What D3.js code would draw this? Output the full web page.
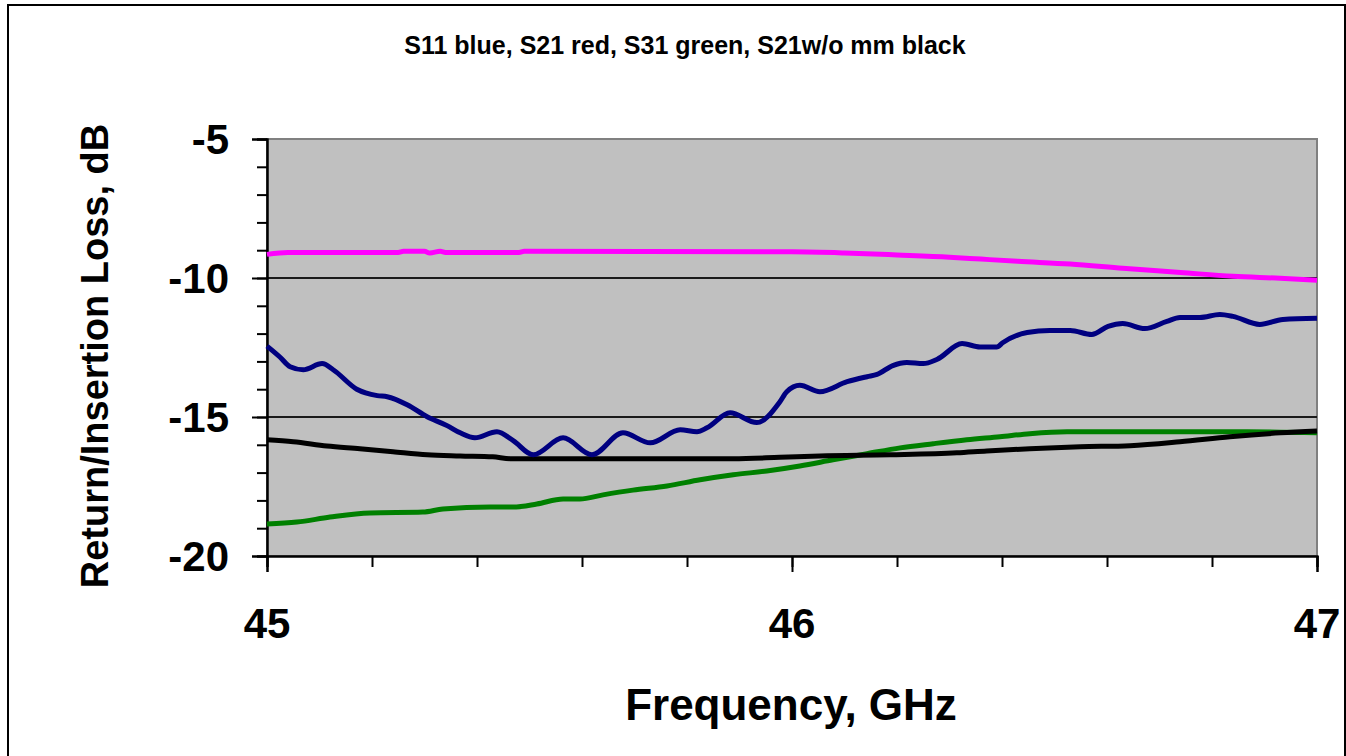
<html>

<head>
    <meta charset="utf-8">
    <title>S-parameter chart</title>
    <style>
        body {
            margin: 0;
            background: #fff;
        }
        
        text {
            font-family: "Liberation Sans", Arial, sans-serif;
            font-weight: bold;
        }
    </style>
    <script src="https://cdn.jsdelivr.net/npm/d3@7"></script>
</head>

<body>

</body>
<script>
    // frequencies (GHz) and levels (dB)
    var s11Freq = [45.000, 45.025, 45.044, 45.069, 45.105, 45.126, 45.171, 45.210, 45.229, 45.267, 45.305, 45.343, 45.368, 45.396,
        45.438, 45.469, 45.507, 45.564, 45.619, 45.678, 45.730, 45.787, 45.819, 45.838, 45.882, 45.933, 45.977, 45.990, 46.015,
        46.053, 46.105, 46.143, 46.162, 46.192, 46.219, 46.250, 46.276, 46.324, 46.358, 46.390, 46.402, 46.448, 46.491, 46.530,
        46.571, 46.602, 46.630, 46.672, 46.714, 46.739, 46.777, 46.815, 46.840, 46.891, 46.935, 47.000
    ];
    var s11 = [-12.45, -12.85, -13.19, -13.30, -13.08, -13.30, -14.00, -14.23, -14.27, -14.56, -14.99, -15.31, -15.57, -15.75,
        -15.53, -15.85, -16.36, -15.75, -16.36, -15.57, -15.93, -15.46, -15.53, -15.39, -14.85, -15.20, -14.45, -14.09, -13.86,
        -14.09, -13.73, -13.55, -13.47, -13.15, -13.04, -13.08, -12.93, -12.36, -12.48, -12.48, -12.32, -11.96, -11.89, -11.89,
        -12.03, -11.74, -11.64, -11.82, -11.56, -11.42, -11.42, -11.31, -11.38, -11.67, -11.49, -11.45
    ];

    var s21Freq = [45.00, 45.04, 45.25, 45.26, 45.30, 45.31, 45.33, 45.34, 45.48, 45.49, 46.00, 46.10, 46.20, 46.30, 46.36,
        46.43, 46.53, 46.63, 46.74, 46.84, 46.93, 47.00
    ];
    var s21 = [-9.15, -9.08, -9.08, -9.04, -9.04, -9.10, -9.04, -9.08, -9.08, -9.04, -9.06, -9.10, -9.17, -9.25, -9.32,
        -9.40, -9.50, -9.65, -9.80, -9.94, -10.01, -10.08
    ];

    var s31Freq = [45.000, 45.057, 45.120, 45.196, 45.297, 45.335, 45.425, 45.469, 45.514, 45.564, 45.596, 45.640, 45.697,
        45.762, 45.825, 45.888, 45.952, 46.015, 46.078, 46.143, 46.206, 46.269, 46.333, 46.396, 46.453, 46.524, 46.867, 47.000
    ];
    var s31 = [-18.85, -18.78, -18.60, -18.45, -18.42, -18.31, -18.24, -18.24, -18.13, -17.95, -17.95, -17.80, -17.63,
        -17.48, -17.26, -17.08, -16.94, -16.76, -16.54, -16.32, -16.11, -15.96, -15.82, -15.71, -15.60, -15.53, -15.53, -15.57
    ];

    var s21noMmFreq = [45.000, 45.050, 45.114, 45.177, 45.240, 45.305, 45.368, 45.430, 45.463, 45.888, 45.977, 46.053, 46.187,
        46.314, 46.371, 46.453, 46.549, 46.644, 46.739, 46.834, 46.930, 47.000
    ];
    var s21noMm = [-15.82, -15.89, -16.04, -16.14, -16.25, -16.36, -16.40, -16.43, -16.50, -16.50, -16.45, -16.40, -16.36,
        -16.29, -16.22, -16.14, -16.07, -16.03, -15.89, -15.71, -15.57, -15.50
    ];

    var xTicks = [45, 46, 47];
    var yTicks = [-5, -10, -15, -20];
    var gridValues = [-10, -15];

    var W = 1346,
        H = 756;
    var plot = {
        left: 267,
        right: 1317,
        top: 139,
        bottom: 556
    };

    var x = d3.scaleLinear().domain([45, 47]).range([plot.left, plot.right]);
    var y = d3.scaleLinear().domain([-20, -5]).range([plot.bottom, plot.top]);

    var svg = d3.select("body").append("svg")
        .attr("width", W)
        .attr("height", H);

    // outer chart frame
    svg.append("rect")
        .attr("x", 8)
        .attr("y", 5)
        .attr("width", 1337)
        .attr("height", 780)
        .attr("fill", "none")
        .attr("stroke", "#000")
        .attr("stroke-width", 2);

    // plot area
    svg.append("rect")
        .attr("x", plot.left)
        .attr("y", plot.top)
        .attr("width", plot.right - plot.left)
        .attr("height", plot.bottom - plot.top)
        .attr("fill", "#c0c0c0")
        .attr("stroke", "#808080")
        .attr("stroke-width", 2);

    svg.selectAll(".grid")
        .data(gridValues)
        .enter()
        .append("line")
        .attr("class", "grid")
        .attr("x1", plot.left)
        .attr("x2", plot.right)
        .attr("y1", function(d) {
            return y(d);
        })
        .attr("y2", function(d) {
            return y(d);
        })
        .attr("stroke", "#1a1a1a")
        .attr("stroke-width", 2);

    // axes: minor ticks first, then major ticks with labels
    var yMinor = d3.axisLeft(y).ticks(15).tickSize(10).tickFormat("");
    var yMajor = d3.axisLeft(y).tickValues(yTicks).tickSize(15).tickFormat("");
    var xMinor = d3.axisBottom(x).tickValues(d3.range(45, 47.01, 0.2)).tickSize(11).tickFormat("");
    var xMajor = d3.axisBottom(x).tickValues(xTicks).tickSize(16).tickFormat("");

    [yMinor, yMajor].forEach(function(ax) {
        svg.append("g")
            .attr("class", "y axis")
            .attr("transform", "translate(" + plot.left + ",0)")
            .call(ax);
    });
    [xMinor, xMajor].forEach(function(ax) {
        svg.append("g")
            .attr("class", "x axis")
            .attr("transform", "translate(0," + plot.bottom + ")")
            .call(ax);
    });
    svg.selectAll(".axis path").attr("stroke", "#000").attr("stroke-width", 2);
    svg.selectAll(".axis line").attr("stroke", "#000").attr("stroke-width", 2);

    svg.selectAll(".ylab")
        .data(yTicks)
        .enter()
        .append("text")
        .attr("class", "ylab")
        .attr("x", 229)
        .attr("y", function(d) {
            return y(d);
        })
        .attr("dy", "0.36em")
        .attr("text-anchor", "end")
        .style("font-size", "42px")
        .text(function(d) {
            return d;
        });

    svg.selectAll(".xlab")
        .data(xTicks)
        .enter()
        .append("text")
        .attr("class", "xlab")
        .attr("x", function(d) {
            return x(d);
        })
        .attr("y", 638)
        .attr("text-anchor", "middle")
        .style("font-size", "42px")
        .text(function(d) {
            return d;
        });

    // series
    var series = [{
        f: s21Freq,
        v: s21,
        color: "#ff00ff"
    }, {
        f: s31Freq,
        v: s31,
        color: "#008000"
    }, {
        f: s21noMmFreq,
        v: s21noMm,
        color: "#000000"
    }, {
        f: s11Freq,
        v: s11,
        color: "#000080"
    }];

    var line = d3.line()
        .x(function(d) {
            return x(d[0]);
        })
        .y(function(d) {
            return y(d[1]);
        })
        .curve(d3.curveMonotoneX);

    series.forEach(function(s) {
        svg.append("path")
            .datum(d3.zip(s.f, s.v))
            .attr("d", line)
            .attr("fill", "none")
            .attr("stroke", s.color)
            .attr("stroke-width", 5)
            .attr("stroke-linejoin", "round");
    });

    // titles
    svg.append("text")
        .attr("x", 685)
        .attr("y", 54)
        .attr("text-anchor", "middle")
        .style("font-size", "25px")
        .text("S11 blue, S21 red, S31 green, S21w/o mm black");

    svg.append("text")
        .attr("x", 791)
        .attr("y", 720)
        .attr("text-anchor", "middle")
        .style("font-size", "44px")
        .text("Frequency, GHz");

    svg.append("text")
        .attr("transform", "translate(108,356) rotate(-90)")
        .attr("text-anchor", "middle")
        .style("font-size", "38px")
        .text("Return/Insertion Loss, dB");
</script>

</html>
